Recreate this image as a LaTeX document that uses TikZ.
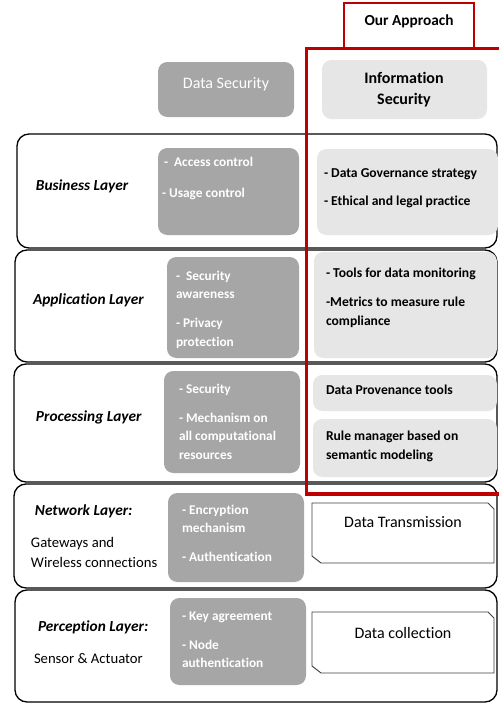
\documentclass[tikz,border=0pt]{standalone}
\usepackage{fontspec}
\setmainfont{Carlito}[Ligatures=NoCommon]
\definecolor{dgrayc}{HTML}{A6A6A6}
\definecolor{lgrayc}{HTML}{E7E6E6}
\definecolor{redc}{HTML}{C00000}
\begin{document}
\begin{tikzpicture}[x=0.75pt,y=-0.75pt,
  every node/.style={inner sep=0pt, outer sep=0pt, text height=0.85em, text depth=0.2em},
  layer/.style={draw=black, line width=1pt, rounded corners=9pt, fill=white},
  dbox/.style={fill=dgrayc, rounded corners=7pt},
  lbox/.style={fill=lgrayc, rounded corners=7pt},
  cbox/.style={draw=black!75, line width=0.7pt, fill=white},
  ttl/.style={anchor=west, font=\fontsize{11.5}{14}\selectfont\bfseries\itshape},
  sub/.style={anchor=west, font=\fontsize{11}{13}\selectfont},
  gtx/.style={anchor=west, text=white, font=\fontsize{10}{12}\selectfont\bfseries},
  ltx/.style={anchor=west, font=\fontsize{10.2}{12}\selectfont\bfseries}]
\useasboundingbox (0,0) rectangle (499,704);
\clip (0,0) rectangle (499,704);

% layer boxes
\draw[layer] (17,134) rectangle (497,248);
\draw[layer] (15,250) rectangle (497,362);
\draw[layer] (14,364) rectangle (497,482);
\draw[layer] (14,484) rectangle (497,588);
\draw[layer] (15,590) rectangle (497,702);

% header boxes
\fill[dbox] (158,62) rectangle (294,117);
\node[text=white, font=\fontsize{12}{14}\selectfont] (ds) at (226,84) {Data Security};
\fill[lbox] (322,60) rectangle (487,119);
\node[font=\fontsize{12}{14}\selectfont\bfseries] (is1) at (404,79) {Information};
\node[font=\fontsize{12}{14}\selectfont\bfseries] (is2) at (404,100) {Security};

% Business layer
\node[ttl] (t1) at (36,186) {Business Layer};
\fill[dbox] (158,148) rectangle (299,235);
\node[gtx] (g1a) at (164,162) {-\ \ Access control};
\node[gtx] (g1b) at (162,193) {- Usage control};
\fill[lbox] (317,149) rectangle (498,235);
\node[ltx] (l1a) at (324,173) {- Data Governance strategy};
\node[ltx] (l1b) at (324,201) {- Ethical and legal practice};

% Application layer
\node[ttl] (t2) at (33,300) {Application Layer};
\fill[dbox] (167,257) rectangle (299,358);
\node[gtx] (g2a) at (176,276) {-\ \ Security};
\node[gtx] (g2b) at (176,294) {awareness};
\node[gtx] (g2c) at (176,323) {- Privacy};
\node[gtx] (g2d) at (176,342) {protection};
\fill[lbox] (314,252) rectangle (497,358);
\node[ltx] (l2a) at (326,273) {- Tools for data monitoring};
\node[ltx] (l2b) at (326,302) {-Metrics to measure rule};
\node[ltx] (l2c) at (326,321) {compliance};

% Processing layer
\node[ttl] (t3) at (36,417) {Processing Layer};
\fill[dbox] (164,371) rectangle (300,473);
\node[gtx] (g3a) at (179,389) {- Security};
\node[gtx] (g3b) at (179,418) {- Mechanism on};
\node[gtx] (g3c) at (179,436) {all computational};
\node[gtx] (g3d) at (179,455) {resources};
\fill[lbox] (313,375) rectangle (497,411);
\node[ltx] (l3a) at (326,390) {Data Provenance tools};
\fill[lbox] (313,419) rectangle (497,477);
\node[ltx] (l3b) at (326,436) {Rule manager based on};
\node[ltx] (l3c) at (326,455) {semantic modeling};

% Network layer
\node[ttl] (t4) at (35,511) {Network Layer:};
\node[sub] (s4a) at (31,543) {Gateways and};
\node[sub] (s4b) at (31,563) {Wireless connections};
\fill[dbox] (168,493) rectangle (304,582);
\node[gtx] (g4a) at (182,510) {- Encryption};
\node[gtx] (g4b) at (182,528) {mechanism};
\node[gtx] (g4c) at (182,557) {- Authentication};
\draw[cbox] (312,503) -- (488,503) -- (494,509) -- (494,563) -- (321,563) -- (312,556) -- cycle;
\node[font=\fontsize{12}{14}\selectfont] (dt) at (403,523) {Data Transmission};

% Perception layer
\node[ttl] (t5) at (38,627) {Perception Layer:};
\node[sub] (s5a) at (34,659) {Sensor \& Actuator};
\fill[dbox] (170,598) rectangle (306,685);
\node[gtx] (g5a) at (182,616) {- Key agreement};
\node[gtx] (g5b) at (182,645) {- Node};
\node[gtx] (g5c) at (182,663) {authentication};
\draw[cbox] (312,612) -- (488,612) -- (494,618) -- (494,673) -- (321,673) -- (312,666) -- cycle;
\node[font=\fontsize{12}{14}\selectfont] (dc) at (403,634) {Data collection};

% Our approach frame
\draw[redc, line width=2.6pt] (306.5,48.5) rectangle (506,494);
\fill[white] (344,3) rectangle (474,47);
\draw[redc, line width=0.9pt] (344,47) -- (344,3) -- (474,3) -- (474,47);
\node[font=\fontsize{11.5}{14}\selectfont\bfseries] (oa) at (409,21) {Our Approach};
\end{tikzpicture}
\end{document}
